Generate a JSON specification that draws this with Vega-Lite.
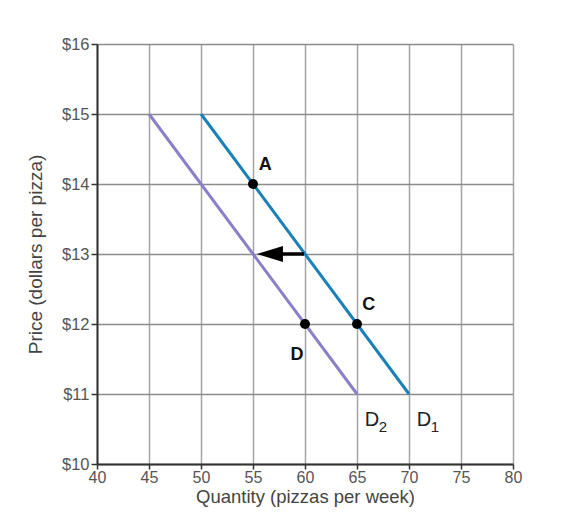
{
  "$schema": "https://vega.github.io/schema/vega-lite/v6.json",
  "width": 416,
  "height": 420,
  "autosize": "none",
  "padding": {"left": 97, "top": 44, "right": 64, "bottom": 62},
  "background": "white",
  "config": {
    "font": "Liberation Sans",
    "view": {"stroke": null}
  },
  "datasets": {
    "curves": [
      {"curve": "D1", "q": 50, "p": 15},
      {"curve": "D1", "q": 70, "p": 11},
      {"curve": "D2", "q": 45, "p": 15},
      {"curve": "D2", "q": 65, "p": 11}
    ],
    "points": [
      {"name": "A", "q": 55, "p": 14},
      {"name": "C", "q": 65, "p": 12},
      {"name": "D", "q": 60, "p": 12}
    ],
    "labels": [
      {"text": "A", "q": 55.55, "p": 14.27},
      {"text": "C", "q": 65.5, "p": 12.27},
      {"text": "D", "q": 58.6, "p": 11.56}
    ],
    "dlabels": [
      {"text": "D", "sub": "2", "q": 65.75, "p": 10.63},
      {"text": "D", "sub": "1", "q": 70.75, "p": 10.63}
    ],
    "arrow": [
      {"q1": 57.5, "q2": 59.9, "p": 13}
    ],
    "arrowhead": [
      {"q": 56.63, "p": 13}
    ]
  },
  "layer": [
    {
      "data": {"name": "curves"},
      "mark": {"type": "line", "strokeWidth": 3},
      "encoding": {
        "x": {
          "field": "q", "type": "quantitative",
          "scale": {"domain": [40, 80], "nice": false},
          "axis": {
            "values": [40,45,50,55,60,65,70,75,80],
            "title": "Quantity (pizzas per week)",
            "titlePadding": 2, "labelPadding": 0, "labelFlush": false,
            "gridColor": "#a5a5a5", "gridWidth": 1.5, "gridOpacity": 1,
            "domainColor": "#333333", "domainWidth": 2,
            "tickColor": "#333333", "tickSize": 5, "tickWidth": 1.5,
            "labelColor": "#555555", "labelFontSize": 16, "labelFont": "Liberation Sans",
            "titleFont": "Liberation Sans", "titleFontSize": 18.5, "titleFontWeight": "normal", "titleColor": "#444444"
          }
        },
        "y": {
          "field": "p", "type": "quantitative",
          "scale": {"domain": [10, 16], "nice": false, "zero": false},
          "axis": {
            "values": [10,11,12,13,14,15,16],
            "labelExpr": "'$' + datum.value",
            "title": "Price (dollars per pizza)",
            "titlePadding": 16, "labelPadding": 2, "labelFlush": false,
            "gridColor": "#8c8c8c", "gridWidth": 1.5, "gridOpacity": 1,
            "domainColor": "#333333", "domainWidth": 2,
            "tickColor": "#333333", "tickSize": 6, "tickWidth": 1.5,
            "labelColor": "#555555", "labelFontSize": 16.5, "labelFont": "Liberation Sans",
            "titleFont": "Liberation Sans", "titleFontSize": 19, "titleFontWeight": "normal", "titleColor": "#444444"
          }
        },
        "color": {
          "field": "curve", "type": "nominal",
          "scale": {"domain": ["D1", "D2"], "range": ["#1a80b8", "#8a80c8"]},
          "legend": null
        }
      }
    },
    {
      "data": {"name": "arrow"},
      "mark": {"type": "rule", "strokeWidth": 3.5, "color": "black"},
      "encoding": {
        "x": {"field": "q1", "type": "quantitative"},
        "x2": {"field": "q2"},
        "y": {"field": "p", "type": "quantitative"}
      }
    },
    {
      "data": {"name": "arrowhead"},
      "mark": {"type": "point", "shape": "M-1,0L1,-0.62L1,0.62Z", "filled": true, "color": "black", "size": 676, "opacity": 1, "strokeWidth": 0},
      "encoding": {
        "x": {"field": "q", "type": "quantitative"},
        "y": {"field": "p", "type": "quantitative"}
      }
    },
    {
      "data": {"name": "points"},
      "mark": {"type": "circle", "color": "black", "size": 100, "opacity": 1},
      "encoding": {
        "x": {"field": "q", "type": "quantitative"},
        "y": {"field": "p", "type": "quantitative"}
      }
    },
    {
      "data": {"name": "labels"},
      "mark": {"type": "text", "fontWeight": "bold", "fontSize": 18, "color": "#111111", "align": "left", "baseline": "middle"},
      "encoding": {
        "x": {"field": "q", "type": "quantitative"},
        "y": {"field": "p", "type": "quantitative"},
        "text": {"field": "text"}
      }
    },
    {
      "data": {"name": "dlabels"},
      "mark": {"type": "text", "fontSize": 20, "color": "#222222", "align": "left", "baseline": "middle"},
      "encoding": {
        "x": {"field": "q", "type": "quantitative"},
        "y": {"field": "p", "type": "quantitative"},
        "text": {"field": "text"}
      }
    },
    {
      "data": {"name": "dlabels"},
      "mark": {"type": "text", "fontSize": 15, "color": "#222222", "align": "left", "baseline": "middle", "dx": 14, "dy": 7},
      "encoding": {
        "x": {"field": "q", "type": "quantitative"},
        "y": {"field": "p", "type": "quantitative"},
        "text": {"field": "sub"}
      }
    }
  ]
}
